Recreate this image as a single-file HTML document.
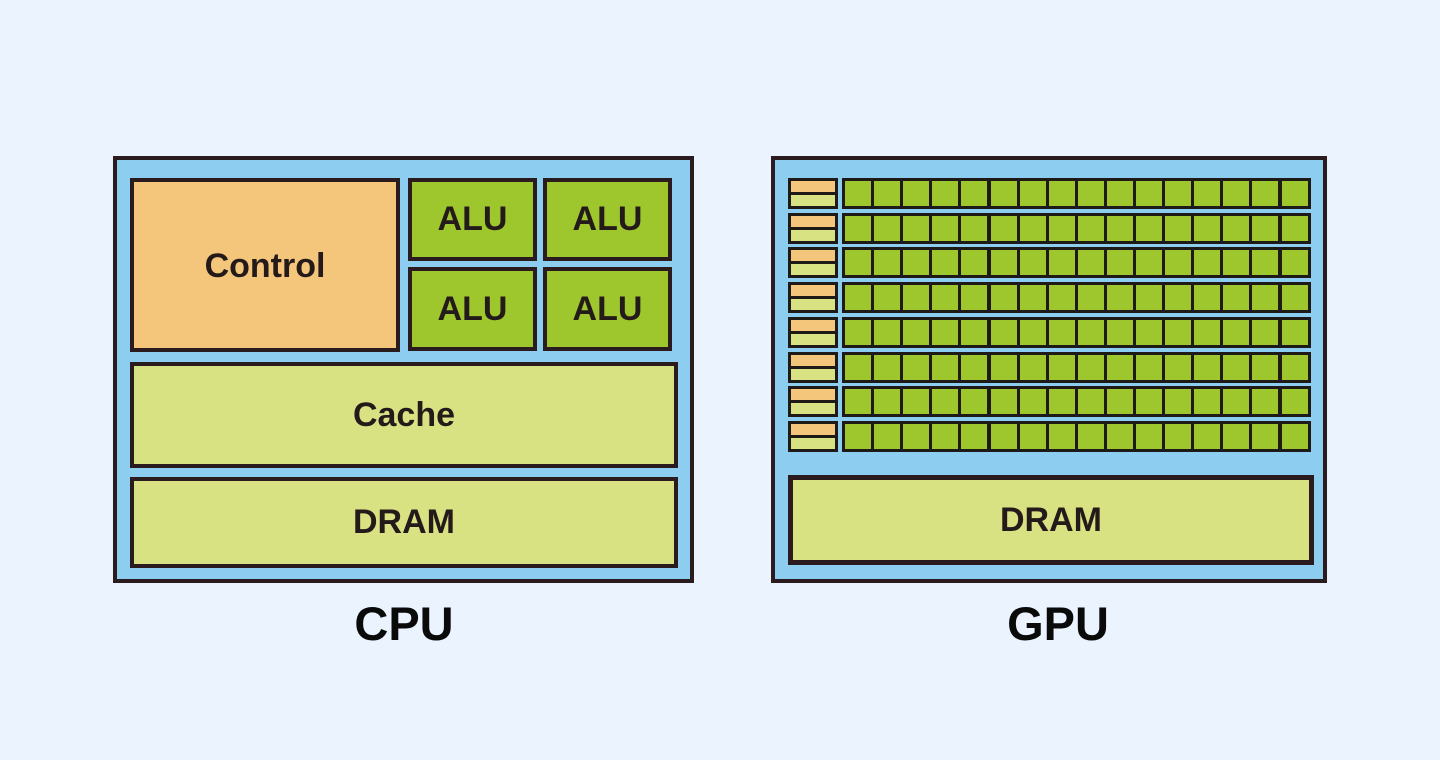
<!DOCTYPE html>
<html><head><meta charset="utf-8"><style>
body{margin:0;width:1440px;height:760px;background:#eaf3fe;position:relative;overflow:hidden;font-family:"Liberation Sans",Arial,sans-serif;}
.b{position:absolute;box-sizing:border-box;border:4px solid #2a1c1e;display:flex;align-items:center;justify-content:center;font-weight:bold;color:#241a1a;}
.blue{background:#8ccdf0;}
.or{background:#f4c67b;}
.lg{background:#d9e283;}
.g{background:#9dc72d;}
.lbl{position:absolute;font-weight:bold;font-size:47px;color:#0a0a0a;text-align:center;}
</style></head><body>
<div class="b blue" style="left:113px;top:156px;width:581px;height:427px;"></div>
<div class="b or" style="left:130px;top:178px;width:270px;height:174px;font-size:34px;padding-top:2px">Control</div>
<div class="b g" style="left:408px;top:178px;width:129px;height:83px;font-size:34px">ALU</div>
<div class="b g" style="left:543px;top:178px;width:129px;height:83px;font-size:34px">ALU</div>
<div class="b g" style="left:408px;top:267px;width:129px;height:84px;font-size:34px">ALU</div>
<div class="b g" style="left:543px;top:267px;width:129px;height:84px;font-size:34px">ALU</div>
<div class="b lg" style="left:130px;top:362px;width:548px;height:106px;font-size:34px">Cache</div>
<div class="b lg" style="left:130px;top:477px;width:548px;height:91px;font-size:34px">DRAM</div>
<div class="lbl" style="left:304px;top:596px;width:200px;">CPU</div>

<div class="b blue" style="left:771px;top:156px;width:556px;height:427px;"></div>
<div id="grid"></div>
<div class="b lg" style="left:788px;top:475px;width:526px;height:90px;font-size:34px;border-width:5px">DRAM</div>
<div class="lbl" style="left:958px;top:596px;width:200px;">GPU</div>
<script>
var h='';
for(var r=0;r<8;r++){
 var y=178+r*34.7;
 h+='<div style="position:absolute;left:788px;top:'+y+'px;width:50px;height:31px;box-sizing:border-box;border:3px solid #1e1a18;background:#d9e283"><div style="height:11px;background:#f4c67b;border-bottom:3px solid #1e1a18"></div></div>';
 for(var c=0;c<16;c++){
  var x=842+c*29.1;
  h+='<div style="position:absolute;left:'+x+'px;top:'+y+'px;width:32px;height:31px;box-sizing:border-box;border:3px solid #1e1a18;background:#9dc72d"></div>';
 }
}
document.getElementById('grid').innerHTML=h;
</script>
</body></html>
